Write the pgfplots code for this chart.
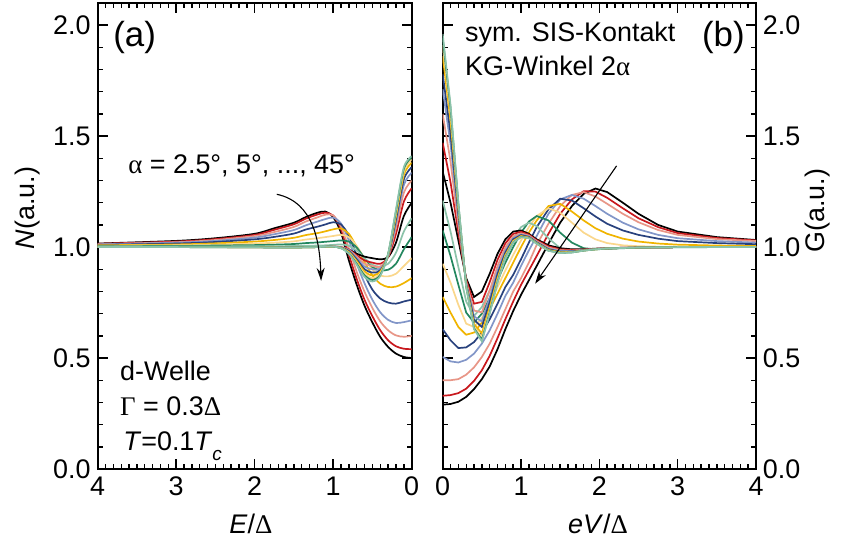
\documentclass[border=0pt]{standalone}
\usepackage{fontspec}
\setmainfont{Liberation Sans}
\newfontfamily\grk{Liberation Serif}
\usepackage{pgfplots}
\pgfplotsset{compat=1.18}
\usepackage{pgfplotstable}
\usetikzlibrary{arrows.meta}

% nine-colour palette, used twice for alpha = 2.5 ... 45 deg
\definecolor{col1}{RGB}{0,0,0}
\definecolor{col2}{RGB}{200,25,30}
\definecolor{col3}{RGB}{232,150,135}
\definecolor{col4}{RGB}{130,150,200}
\definecolor{col5}{RGB}{40,65,125}
\definecolor{col6}{RGB}{240,180,0}
\definecolor{col7}{RGB}{250,215,140}
\definecolor{col8}{RGB}{35,135,95}
\definecolor{col9}{RGB}{140,195,170}
\colorlet{col10}{col1}\colorlet{col11}{col2}\colorlet{col12}{col3}
\colorlet{col13}{col4}\colorlet{col14}{col5}\colorlet{col15}{col6}
\colorlet{col16}{col7}\colorlet{col17}{col8}\colorlet{col18}{col9}

% (a) density of states N(E), one column per angle
\pgfplotstableread{
E    a1    a2    a3    a4    a5    a6    a7    a8    a9    a10   a11   a12   a13   a14   a15   a16   a17   a18
0.0  0.500 0.540 0.600 0.670 0.763 0.860 0.950 1.045 1.130 1.200 1.265 1.300 1.335 1.360 1.380 1.395 1.405 1.410
0.1  0.505 0.542 0.596 0.662 0.755 0.838 0.915 0.990 1.070 1.140 1.205 1.245 1.280 1.305 1.325 1.340 1.352 1.360
0.2  0.520 0.553 0.602 0.658 0.745 0.822 0.880 0.925 0.975 1.020 1.060 1.088 1.108 1.125 1.140 1.152 1.162 1.170
0.3  0.550 0.580 0.625 0.672 0.750 0.820 0.868 0.898 0.925 0.955 0.955 0.958 0.960 0.962 0.965 0.968 0.970 0.970
0.4  0.595 0.625 0.665 0.706 0.768 0.835 0.872 0.896 0.912 0.945 0.925 0.912 0.903 0.895 0.890 0.882 0.875 0.870
0.5  0.660 0.688 0.725 0.762 0.808 0.872 0.898 0.910 0.920 0.950 0.930 0.915 0.900 0.885 0.872 0.860 0.852 0.845
0.6  0.735 0.762 0.798 0.836 0.875 0.932 0.948 0.950 0.950 0.957 0.940 0.925 0.912 0.900 0.890 0.880 0.872 0.865
0.7  0.830 0.856 0.888 0.925 0.962 1.000 1.005 0.998 0.985 0.970 0.963 0.957 0.950 0.944 0.937 0.930 0.925 0.920
0.8  0.940 0.965 0.995 1.030 1.052 1.060 1.045 1.025 1.006 0.988 0.988 0.987 0.985 0.982 0.978 0.975 0.972 0.970
0.9  1.065 1.080 1.092 1.106 1.102 1.084 1.055 1.030 1.012 0.998 1.000 1.000 0.999 0.998 0.997 0.996 0.995 0.995
1.0  1.135 1.142 1.143 1.133 1.112 1.080 1.050 1.027 1.010 1.001 1.002 1.002 1.002 1.002 1.002 1.002 1.002 1.002
1.1  1.160 1.155 1.146 1.126 1.102 1.071 1.045 1.024 1.008 1.001 1.001 1.001 1.001 1.001 1.001 1.001 1.002 1.002
1.2  1.155 1.147 1.134 1.115 1.092 1.063 1.040 1.021 1.007 1.000 1.000 1.000 1.000 1.000 1.000 1.000 1.000 1.000
1.35 1.135 1.128 1.115 1.098 1.079 1.054 1.034 1.018 1.006 1.000 1.000 1.000 1.000 0.999 0.999 0.999 0.999 0.999
1.5  1.110 1.103 1.091 1.077 1.061 1.042 1.026 1.014 1.005 1.000 1.000 1.000 0.999 0.999 0.998 0.998 0.998 0.998
1.75 1.085 1.078 1.068 1.058 1.046 1.032 1.020 1.011 1.004 1.000 1.000 1.000 0.999 0.999 0.999 0.998 0.998 0.998
2.0  1.060 1.055 1.050 1.043 1.035 1.025 1.016 1.009 1.004 1.000 1.000 1.000 1.000 0.999 0.999 0.999 0.999 0.999
2.5  1.040 1.036 1.032 1.028 1.023 1.017 1.011 1.007 1.003 1.000 1.000 1.000 1.000 1.000 1.000 0.999 0.999 0.999
3.0  1.028 1.025 1.022 1.020 1.016 1.012 1.008 1.005 1.003 1.000 1.000 1.000 1.000 1.000 1.000 1.000 1.000 1.000
4.0  1.016 1.015 1.013 1.012 1.010 1.008 1.006 1.004 1.002 1.000 1.000 1.000 1.000 1.000 1.000 1.000 1.000 1.000
}\dosA

% (b) SIS conductance G(eV), one column per angle
\pgfplotstableread{
V    b1    b2    b3    b4    b5    b6    b7    b8    b9    b10   b11   b12   b13   b14   b15   b16   b17   b18
0.0  0.290 0.330 0.400 0.505 0.630 0.775 0.925 1.075 1.210 1.340 1.470 1.600 1.712 1.780 1.861 1.910 1.941 1.960
0.1  0.293 0.333 0.400 0.485 0.580 0.705 0.840 0.960 1.070 1.200 1.292 1.385 1.464 1.512 1.570 1.605 1.627 1.640
0.2  0.303 0.342 0.405 0.480 0.545 0.640 0.740 0.830 0.910 1.030 1.066 1.101 1.132 1.151 1.173 1.186 1.195 1.200
0.3  0.325 0.362 0.425 0.492 0.548 0.605 0.655 0.705 0.755 0.860 0.852 0.843 0.836 0.832 0.826 0.823 0.821 0.820
0.4  0.360 0.397 0.458 0.520 0.572 0.615 0.640 0.660 0.690 0.775 0.745 0.714 0.688 0.672 0.653 0.642 0.634 0.630
0.5  0.405 0.445 0.505 0.565 0.615 0.660 0.680 0.700 0.730 0.800 0.753 0.706 0.665 0.640 0.611 0.593 0.582 0.575
0.6  0.462 0.510 0.565 0.625 0.675 0.720 0.745 0.770 0.805 0.880 0.842 0.804 0.772 0.752 0.729 0.714 0.705 0.700
0.7  0.540 0.590 0.640 0.700 0.745 0.790 0.820 0.850 0.885 0.970 0.943 0.915 0.892 0.878 0.861 0.850 0.844 0.840
0.8  0.630 0.675 0.720 0.780 0.820 0.860 0.895 0.930 0.965 1.035 1.017 0.999 0.984 0.975 0.964 0.957 0.953 0.950
0.9  0.712 0.755 0.800 0.840 0.875 0.930 0.965 1.000 1.040 1.070 1.060 1.049 1.040 1.035 1.028 1.024 1.021 1.020
1.0  0.785 0.830 0.860 0.915 0.945 1.000 1.030 1.065 1.090 1.075 1.069 1.062 1.057 1.054 1.050 1.047 1.046 1.045
1.1  0.850 0.895 0.930 0.985 1.020 1.065 1.090 1.115 1.110 1.060 1.056 1.052 1.048 1.046 1.043 1.042 1.041 1.040
1.2  0.915 0.960 1.010 1.050 1.090 1.120 1.140 1.140 1.095 1.035 1.031 1.027 1.023 1.021 1.018 1.017 1.016 1.015
1.35 1.015 1.060 1.105 1.150 1.170 1.185 1.175 1.120 1.040 1.008 1.003 0.998 0.993 0.990 0.987 0.985 0.984 0.983
1.5  1.110 1.150 1.185 1.215 1.218 1.195 1.155 1.065 0.995 0.995 0.990 0.986 0.982 0.979 0.977 0.975 0.974 0.973
1.65 1.185 1.215 1.235 1.235 1.210 1.160 1.110 1.020 0.982 0.990 0.987 0.984 0.982 0.980 0.978 0.977 0.976 0.976
1.8  1.240 1.252 1.248 1.218 1.175 1.120 1.065 0.995 0.985 0.990 0.989 0.988 0.986 0.986 0.985 0.984 0.984 0.984
1.95 1.264 1.250 1.228 1.185 1.138 1.085 1.035 0.990 0.990 0.993 0.992 0.992 0.991 0.991 0.990 0.990 0.990 0.990
2.1  1.248 1.222 1.195 1.150 1.105 1.060 1.018 0.992 0.994 0.995 0.995 0.995 0.994 0.994 0.994 0.994 0.994 0.994
2.3  1.200 1.175 1.150 1.110 1.075 1.038 1.008 0.995 0.996 0.997 0.997 0.997 0.996 0.996 0.996 0.996 0.996 0.996
2.5  1.150 1.130 1.112 1.080 1.055 1.025 1.004 0.997 0.998 0.998 0.998 0.998 0.998 0.998 0.998 0.998 0.998 0.998
2.75 1.100 1.090 1.077 1.055 1.038 1.016 1.002 0.998 0.999 0.999 0.999 0.999 0.999 0.999 0.999 0.999 0.999 0.999
3.0  1.070 1.063 1.055 1.040 1.027 1.011 1.001 0.999 1.000 1.000 1.000 1.000 1.000 1.000 1.000 1.000 1.000 1.000
3.5  1.045 1.041 1.036 1.027 1.018 1.007 1.000 1.000 1.000 1.000 1.000 1.000 1.000 1.000 1.000 1.000 1.000 1.000
4.0  1.032 1.030 1.027 1.020 1.013 1.005 1.000 1.000 1.000 1.000 1.000 1.000 1.000 1.000 1.000 1.000 1.000 1.000
}\dosB

\newcommand{\lbl}{\fontsize{27}{32}\selectfont}
\newcommand{\tag}{\fontsize{35}{40}\selectfont}

\pgfplotsset{
  panel/.style={
    scale only axis, height=466bp,
    xmin=0, xmax=4, ymin=0, ymax=2.1,
    xtick={0,1,2,3,4}, xticklabels={0,1,2,3,4},
    ytick={0,0.5,1,1.5,2}, yticklabels={0.0,0.5,1.0,1.5,2.0},
    minor x tick num=9, minor y tick num=4,
    major tick length=10bp, minor tick length=5bp,
    tick align=inside,
    axis line style={line width=1.8bp},
    tick style={line width=1.4bp, black},
    tick label style={font=\lbl},
    xticklabel style={yshift=-4bp},
    clip mode=individual,
  },
  curve/.style={line width=1.7bp, no markers},
}

\begin{document}
\begin{tikzpicture}
\useasboundingbox (-97.7bp,-75bp) rectangle (744.3bp,469bp);

% (a) density of states
\begin{axis}[panel, width=314bp, at={(0bp,0bp)}, anchor=south west,
  x dir=reverse, yticklabel style={xshift=-3.7bp}]
  \pgfplotsinvokeforeach{1,...,18}{
    \addplot[curve, smooth, color=col#1] table[x=E, y=a#1] {\dosA};
  }
  \draw[line width=1.1bp, -{Stealth[length=13bp,width=8bp]}]
    (axis cs:1.718,1.238) to[out=-12,in=92] (axis cs:1.154,0.848);
  \node[anchor=west, inner sep=0, font=\tag] at (axis description cs:0.049,0.925) {(a)};
  \node[anchor=base west, inner sep=0, font=\lbl] at (axis description cs:0.097,0.6345)
    {{\grk α} = 2.5°, 5°, ..., 45°};
  \node[anchor=base west, inner sep=0, font=\lbl] at (axis description cs:0.071,0.189) {d-Welle};
  \node[anchor=base west, inner sep=0, font=\lbl] at (axis description cs:0.071,0.114)
    {{\grk Γ} = 0.3{\grk Δ}};
  \node[anchor=base west, inner sep=0, font=\lbl] at (axis description cs:0.081,0.0395)
    {\textit{T}=0.1\textit{T}\raisebox{-0.38em}{\fontsize{19}{22}\selectfont\itshape c}};
  \node[rotate=90, font=\lbl] at (axis description cs:-0.225,0.560) {\textit{N}(a.u.)};
  \node[font=\lbl] at (axis description cs:0.488,-0.118) {\textit{E}/{\grk Δ}};
\end{axis}

% (b) SIS tunnelling conductance
\begin{axis}[panel, width=313.3bp, at={(345bp,0bp)}, anchor=south west,
  yticklabel pos=right, yticklabel style={xshift=3.3bp}]
  \pgfplotsinvokeforeach{1,...,18}{
    \addplot[curve, color=col#1] table[x=V, y=b#1] {\dosB};
  }
  \draw[line width=1.1bp, -{Stealth[length=13bp,width=8bp]}]
    (axis cs:2.22,1.366) -- (axis cs:1.18,0.835);
  \node[anchor=base west, inner sep=0, font=\lbl] at (axis description cs:0.071,0.917) {sym. SIS-Kontakt};
  \node[anchor=base west, inner sep=0, font=\lbl] at (axis description cs:0.071,0.844)
    {KG-Winkel 2{\grk α}};
  \node[anchor=west, inner sep=0, font=\tag] at (axis description cs:0.827,0.925) {(b)};
  \node[rotate=90, font=\lbl] at (axis description cs:1.195,0.554) {G(a.u.)};
  \node[font=\lbl] at (axis description cs:0.496,-0.118) {\textit{eV}/{\grk Δ}};
\end{axis}
\end{tikzpicture}
\end{document}
